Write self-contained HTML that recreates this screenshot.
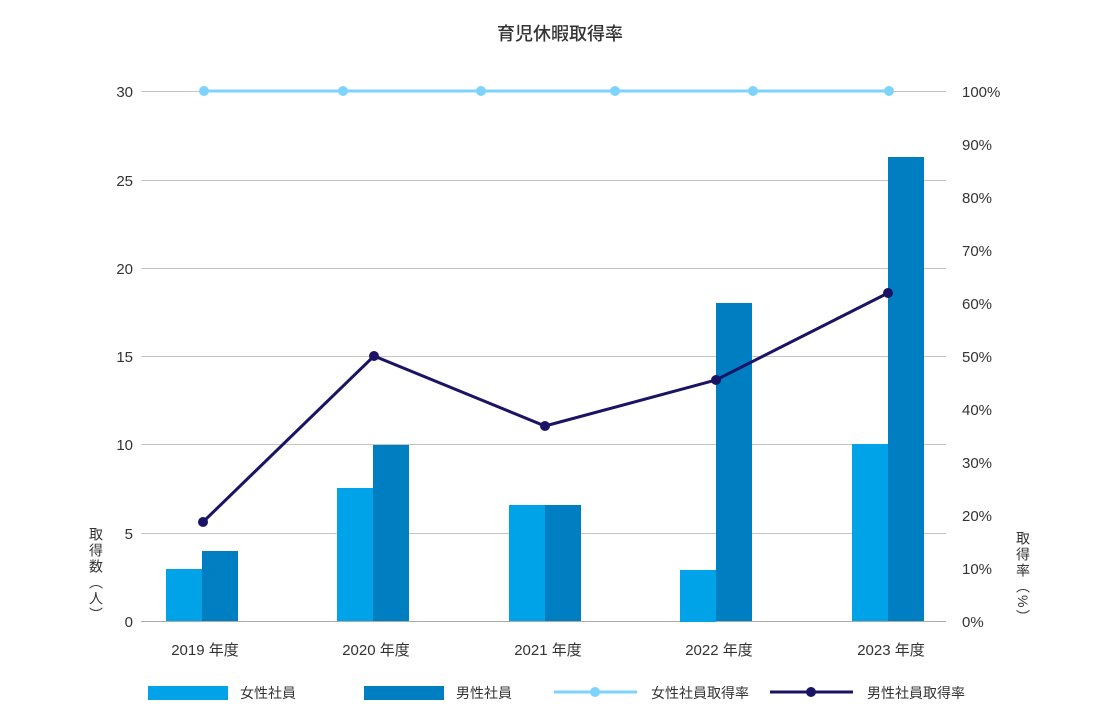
<!DOCTYPE html>
<html><head><meta charset="utf-8"><style>
body{margin:0;background:#fff;position:relative}
svg text{font-family:"Liberation Sans","Noto Sans CJK JP",sans-serif;fill:#333}
.v{position:absolute;writing-mode:vertical-rl;font-family:"Liberation Sans","Noto Sans CJK JP",sans-serif;font-size:14px;color:#333;line-height:14px;letter-spacing:2px}
</style></head><body>
<svg width="1120" height="716" viewBox="0 0 1120 716" xmlns="http://www.w3.org/2000/svg" style="display:block">
<text x="560" y="40" font-size="18" text-anchor="middle" font-weight="500">育児休暇取得率</text>
<g stroke="#c4c4c4" stroke-width="1">
<line x1="141" x2="946" y1="91.5" y2="91.5"/>
<line x1="141" x2="946" y1="180.5" y2="180.5"/>
<line x1="141" x2="946" y1="268.5" y2="268.5"/>
<line x1="141" x2="946" y1="356.5" y2="356.5"/>
<line x1="141" x2="946" y1="444.5" y2="444.5"/>
<line x1="141" x2="946" y1="533.5" y2="533.5"/>
<line x1="141" x2="946" y1="621.5" y2="621.5" stroke="#aaa"/>
</g>
<g font-size="15" text-anchor="end">
<text x="133" y="97">30</text><text x="133" y="186">25</text><text x="133" y="274">20</text>
<text x="133" y="362">15</text><text x="133" y="450">10</text><text x="133" y="539">5</text><text x="133" y="627">0</text>
</g>
<g font-size="15">
<text x="962" y="97">100%</text><text x="962" y="150">90%</text><text x="962" y="203">80%</text>
<text x="962" y="256">70%</text><text x="962" y="309">60%</text><text x="962" y="362">50%</text>
<text x="962" y="415">40%</text><text x="962" y="468">30%</text><text x="962" y="521">20%</text>
<text x="962" y="574">10%</text><text x="962" y="627">0%</text>
</g>
<g fill="#00a3e8">
<rect x="166" y="569" width="36" height="52"/>
<rect x="337" y="488" width="36" height="133"/>
<rect x="509" y="505" width="36" height="116"/>
<rect x="680" y="570" width="36" height="52"/>
<rect x="852" y="444" width="36" height="177"/>
</g>
<g fill="#007ec2">
<rect x="202" y="551" width="36" height="70"/>
<rect x="373" y="445" width="36" height="176"/>
<rect x="545" y="505" width="36" height="116"/>
<rect x="716" y="303" width="36" height="318"/>
<rect x="888" y="157" width="36" height="464"/>
</g>
<polyline points="204,91 343,91 481,91 615,91 753,91 889,91" fill="none" stroke="#7dd3fc" stroke-width="3"/>
<g fill="#7dd3fc">
<circle cx="204" cy="91" r="5"/><circle cx="343" cy="91" r="5"/><circle cx="481" cy="91" r="5"/>
<circle cx="615" cy="91" r="5"/><circle cx="753" cy="91" r="5"/><circle cx="889" cy="91" r="5"/>
</g>
<polyline points="203,522 374,356 545,426 716,380 888,293" fill="none" stroke="#1b1464" stroke-width="3"/>
<g fill="#1b1464">
<circle cx="203" cy="522" r="5"/><circle cx="374" cy="356" r="5"/><circle cx="545" cy="426" r="5"/>
<circle cx="716" cy="380" r="5"/><circle cx="888" cy="293" r="5"/>
</g>
<g font-size="15" text-anchor="middle" style="fill:#222">
<text x="205" y="655">2019 年度</text><text x="376" y="655">2020 年度</text><text x="548" y="655">2021 年度</text>
<text x="719" y="655">2022 年度</text><text x="891" y="655">2023 年度</text>
</g>
<rect x="148" y="686" width="80" height="14" fill="#00a3e8"/>
<text x="240" y="698" font-size="14">女性社員</text>
<rect x="364" y="686" width="80" height="14" fill="#007ec2"/>
<text x="456" y="698" font-size="14">男性社員</text>
<line x1="554" x2="637" y1="692" y2="692" stroke="#7dd3fc" stroke-width="3"/>
<circle cx="595" cy="692" r="5" fill="#7dd3fc"/>
<text x="651" y="698" font-size="14">女性社員取得率</text>
<line x1="770" x2="853" y1="692" y2="692" stroke="#1b1464" stroke-width="3"/>
<circle cx="811" cy="692" r="5" fill="#1b1464"/>
<text x="867" y="698" font-size="14">男性社員取得率</text>
</svg>
<div class="v" style="left:89px;top:527px">取得数（人）</div>
<div class="v" style="left:1016px;top:531px">取得率（%）</div>
</body></html>
